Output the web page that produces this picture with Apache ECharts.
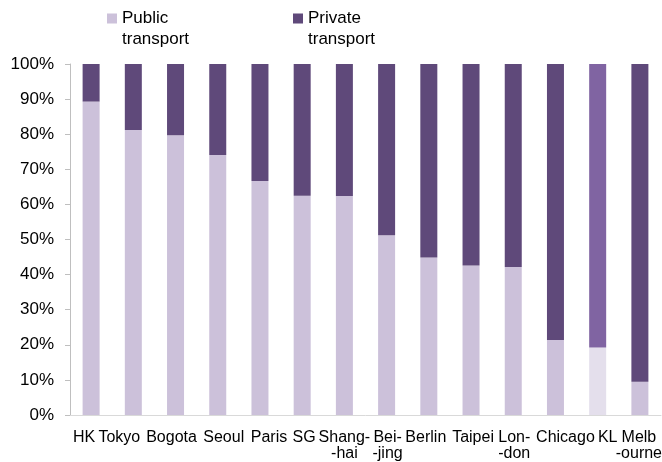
<!DOCTYPE html>
<html>
<head>
<meta charset="utf-8">
<script src="https://cdn.jsdelivr.net/npm/echarts@6/dist/echarts.min.js"></script>
<style>
  html, body { margin: 0; padding: 0; background: #fff; }
  #chart { width: 662px; height: 462px; }
</style>
</head>
<body>
<div id="chart"></div>
<script>
const cities = ['HK', 'Tokyo', 'Bogota', 'Seoul', 'Paris', 'SG', 'Shang-\n-hai', 'Bei-\n-jing',
  'Berlin', 'Taipei', 'Lon-\n-don', 'Chicago', 'KL', 'Melb\n-ourne'];
const publicShare = [89.3, 81.2, 79.7, 74.1, 66.7, 62.5, 62.4, 51.2, 44.9, 42.6, 42.2, 21.4, 19.2, 9.5];
const privateShare = [10.7, 18.8, 20.3, 25.9, 33.3, 37.5, 37.6, 48.8, 55.1, 57.4, 57.8, 78.6, 80.8, 90.5];
const yTicks = [0, 10, 20, 30, 40, 50, 60, 70, 80, 90, 100];

// labels in the original sit a little off their bars (px, + = right)
const labelNudge = [-7, -14, -4, 6, 9, 2, 0, 1, -3, 2, 1, 10, 10, -1];

// KL is drawn in its own lighter shades
const highlight = 'KL';
const colPublic = '#ccc1da', colPrivate = '#5f497a';
const hiPublic = '#e4dfec', hiPrivate = '#8064a2';
const font = 'Liberation Sans, Arial, sans-serif';

const chart = echarts.init(document.getElementById('chart'), null, { renderer: 'canvas' });

const paint = (vals, base, hi) => vals.map((v, i) =>
  cities[i] === highlight ? { value: v, itemStyle: { color: hi } } : { value: v, itemStyle: { color: base } });

const rich = {};
labelNudge.forEach((d, i) => {
  rich['n' + i] = {
    fontSize: 16, lineHeight: 16, color: '#000', fontFamily: font,
    padding: d > 0 ? [0, 0, 0, 2 * d] : [0, -2 * d, 0, 0]
  };
});

// square at the top of a taller box, so it lines up with the first text line
const legendIcon = 'path://M0,0H10V10H0Z M0,31H0.01V31.01H0Z';
const legendText = { fontFamily: font, fontSize: 17, color: '#000', lineHeight: 21 };

chart.setOption({
  animation: false,
  legend: [
    { data: ['Public\ntransport'], left: 102, top: 3, itemWidth: 10, itemHeight: 31,
      icon: legendIcon, textStyle: legendText },
    { data: ['Private\ntransport'], left: 288, top: 3, itemWidth: 10, itemHeight: 31,
      icon: legendIcon, textStyle: legendText }
  ],
  grid: { left: 70, right: 1, top: 64, bottom: 47, containLabel: false, outerBoundsMode: 'none' },
  xAxis: {
    type: 'category',
    data: cities,
    axisLine: { lineStyle: { color: '#d9d9d9' } },
    axisTick: { show: false },
    axisLabel: {
      interval: 0, margin: 15, rich: rich,
      formatter: (v, i) => '{n' + i + '|' + v + '}'
    }
  },
  yAxis: {
    type: 'value',
    min: yTicks[0],
    max: yTicks[yTicks.length - 1],
    interval: 10,
    splitLine: { show: false },
    axisLine: { show: true, lineStyle: { color: '#bfbfbf' } },
    axisTick: { show: true, length: 5, lineStyle: { color: '#bfbfbf' } },
    axisLabel: { formatter: '{value}%', margin: 16, color: '#000', fontSize: 17, fontFamily: font }
  },
  series: [
    { name: 'Public\ntransport', type: 'bar', stack: 'mode', barWidth: 17,
      itemStyle: { color: colPublic }, data: paint(publicShare, colPublic, hiPublic) },
    { name: 'Private\ntransport', type: 'bar', stack: 'mode', barWidth: 17,
      itemStyle: { color: colPrivate }, data: paint(privateShare, colPrivate, hiPrivate) }
  ]
});
</script>
</body>
</html>
